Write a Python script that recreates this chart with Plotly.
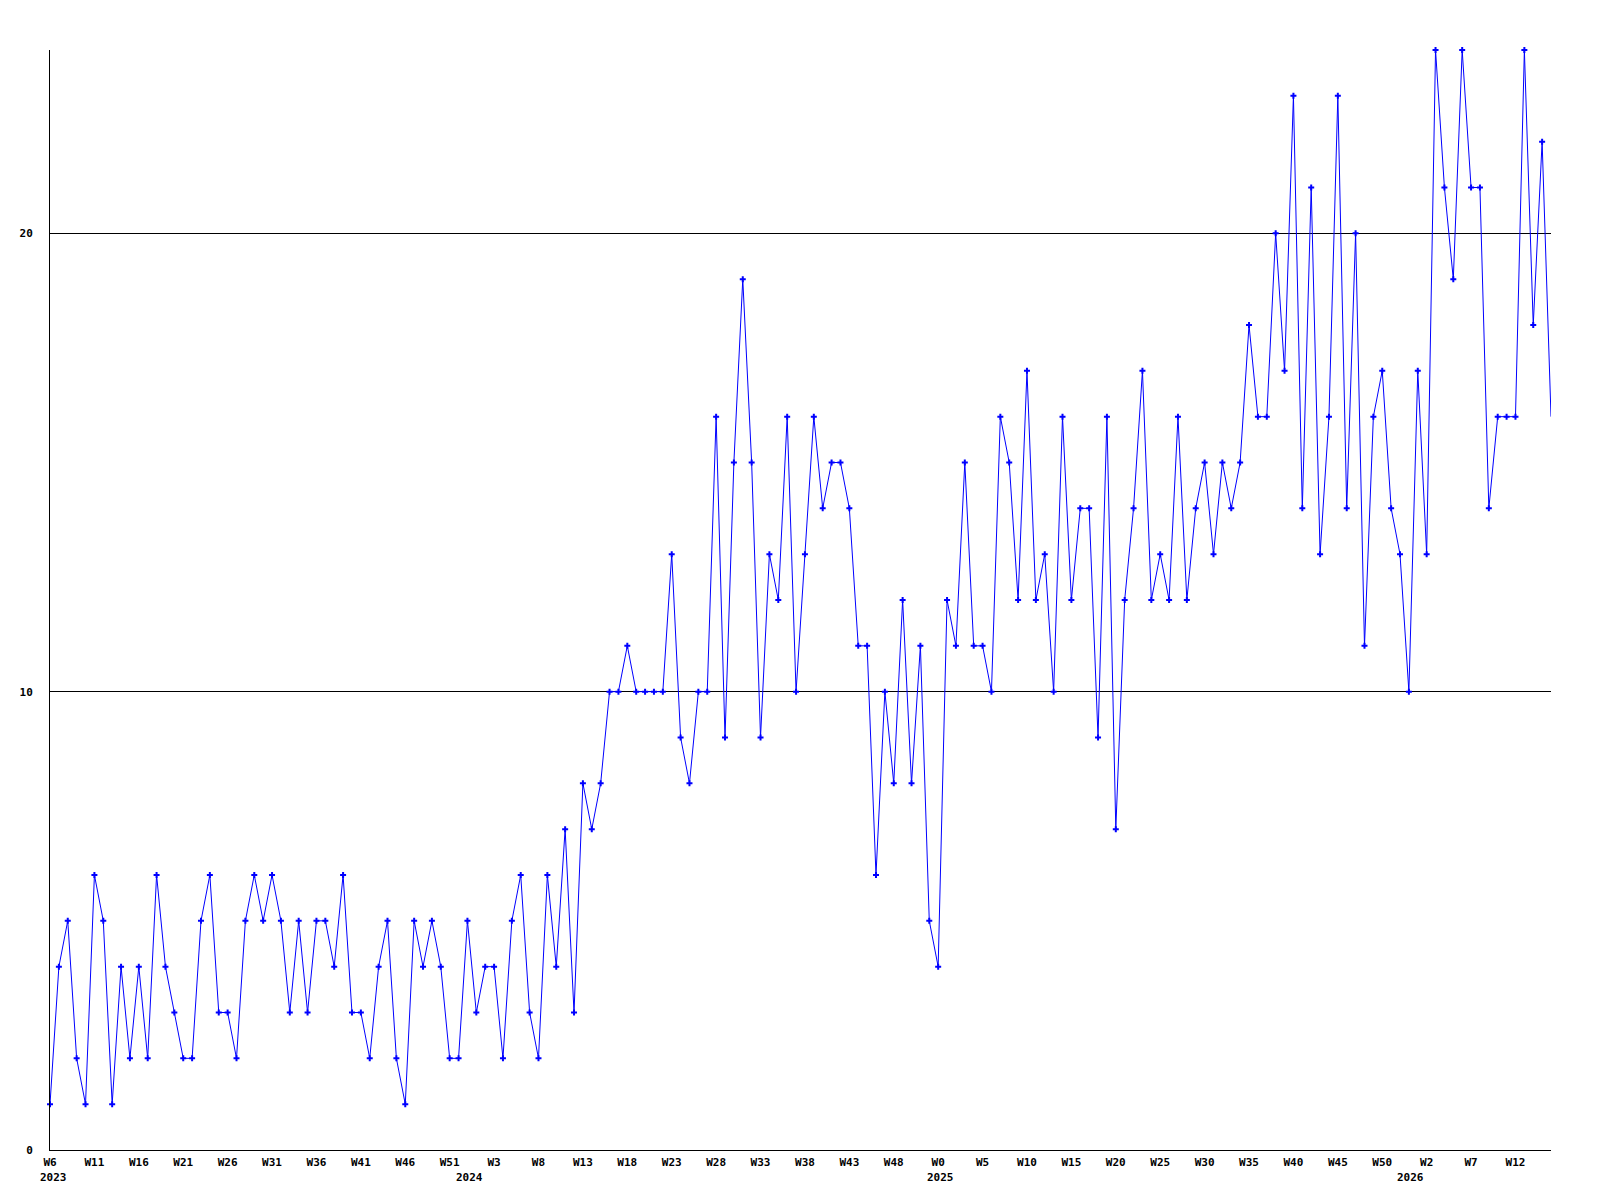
import plotly.graph_objects as go

# Weekly values (one per week)
values = [
    1, 4, 5, 2, 1, 6, 5, 1, 4, 2, 4, 2, 6, 4, 3, 2, 2, 5, 6, 3, 3, 2, 5, 6, 5, 6, 5, 3, 5, 3, 5, 5, 4,
    6, 3, 3, 2, 4, 5, 2, 1, 5, 4, 5, 4, 2, 2, 5, 3, 4, 4, 2, 5, 6, 3, 2, 6, 4, 7, 3, 8, 7, 8,
    10, 10, 11, 10, 10, 10, 10, 13, 9, 8, 10, 10, 16, 9, 15, 19, 15, 9, 13, 12, 16, 10, 13, 16, 14, 15, 15, 14, 11,
    11, 6, 10, 8, 12, 8, 11, 5, 4, 12, 11, 15, 11, 11, 10, 16, 15, 12, 17, 12, 13, 10, 16, 12, 14, 14, 9, 16, 7, 12, 14, 17,
    12, 13, 12, 16, 12, 14, 15, 13, 15, 14, 15, 18, 16, 16, 20, 17, 23, 14, 21, 13, 16, 23, 14, 20, 11, 16, 17, 14, 13,
    10, 17, 13, 24, 21, 19, 24, 21, 21, 14, 16, 16, 16, 24, 18, 22, 16,
]

# x tick labels (every 5th week)
week_labels = [
    "W6", "W11", "W16", "W21", "W26", "W31", "W36", "W41", "W46", "W51",
    "W3", "W8", "W13", "W18", "W23", "W28", "W33", "W38", "W43", "W48",
    "W0", "W5", "W10", "W15", "W20", "W25", "W30", "W35", "W40", "W45",
    "W50", "W2", "W7", "W12",
]
tick_step = 5

# year labels and the week index where each year starts
year_labels = ["2023", "2024", "2025", "2026"]
year_start_idx = [0, 47, 100, 153]

# y ticks
y_ticks = [0, 10, 20]

n = len(values)
x_idx = list(range(n))
tick_idx = [i * tick_step for i in range(len(week_labels))]

font = dict(family="DejaVu Sans Mono", size=11, color="black", weight="bold")

fig = go.Figure()
# the line through every week
fig.add_trace(
    go.Scatter(
        x=x_idx, y=values, mode="lines",
        line=dict(color="#0000ff", width=1),
        cliponaxis=False, hoverinfo="skip",
    )
)
# point markers (the last point sits on the plot edge and shows no marker)
fig.add_trace(
    go.Scatter(
        x=x_idx[:-1], y=values[:-1], mode="markers",
        marker=dict(symbol="cross", size=5, color="#0000ff"),
        cliponaxis=False, hoverinfo="skip",
    )
)

annotations = []
for lab, idx in zip(year_labels, year_start_idx):
    first = idx == 0
    annotations.append(
        dict(
            x=idx, xref="x", y=0, yref="paper",
            text=lab, showarrow=False, font=font,
            xanchor="left" if first else "center",
            xshift=-12 if first else 2,
            yanchor="middle", yshift=-27,
        )
    )

fig.update_layout(
    width=1584,
    height=1184,
    margin=dict(l=42, r=41, t=42, b=42),
    paper_bgcolor="white",
    plot_bgcolor="white",
    showlegend=False,
    annotations=annotations,
    xaxis=dict(
        range=[0, n - 1],
        tickmode="array",
        tickvals=tick_idx,
        ticktext=week_labels,
        showgrid=False,
        zeroline=False,
        showline=True,
        linecolor="black",
        linewidth=1,
        ticks="",
        tickfont=font,
        ticklabelstandoff=2,
    ),
    yaxis=dict(
        range=[0, 24],
        tickmode="array",
        tickvals=y_ticks,
        ticktext=[str(v) for v in y_ticks],
        showgrid=True,
        gridcolor="black",
        gridwidth=1,
        zeroline=False,
        showline=True,
        linecolor="black",
        linewidth=1,
        ticks="",
        tickfont=font,
        ticklabelstandoff=14,
    ),
)

fig.write_html("out.html")
